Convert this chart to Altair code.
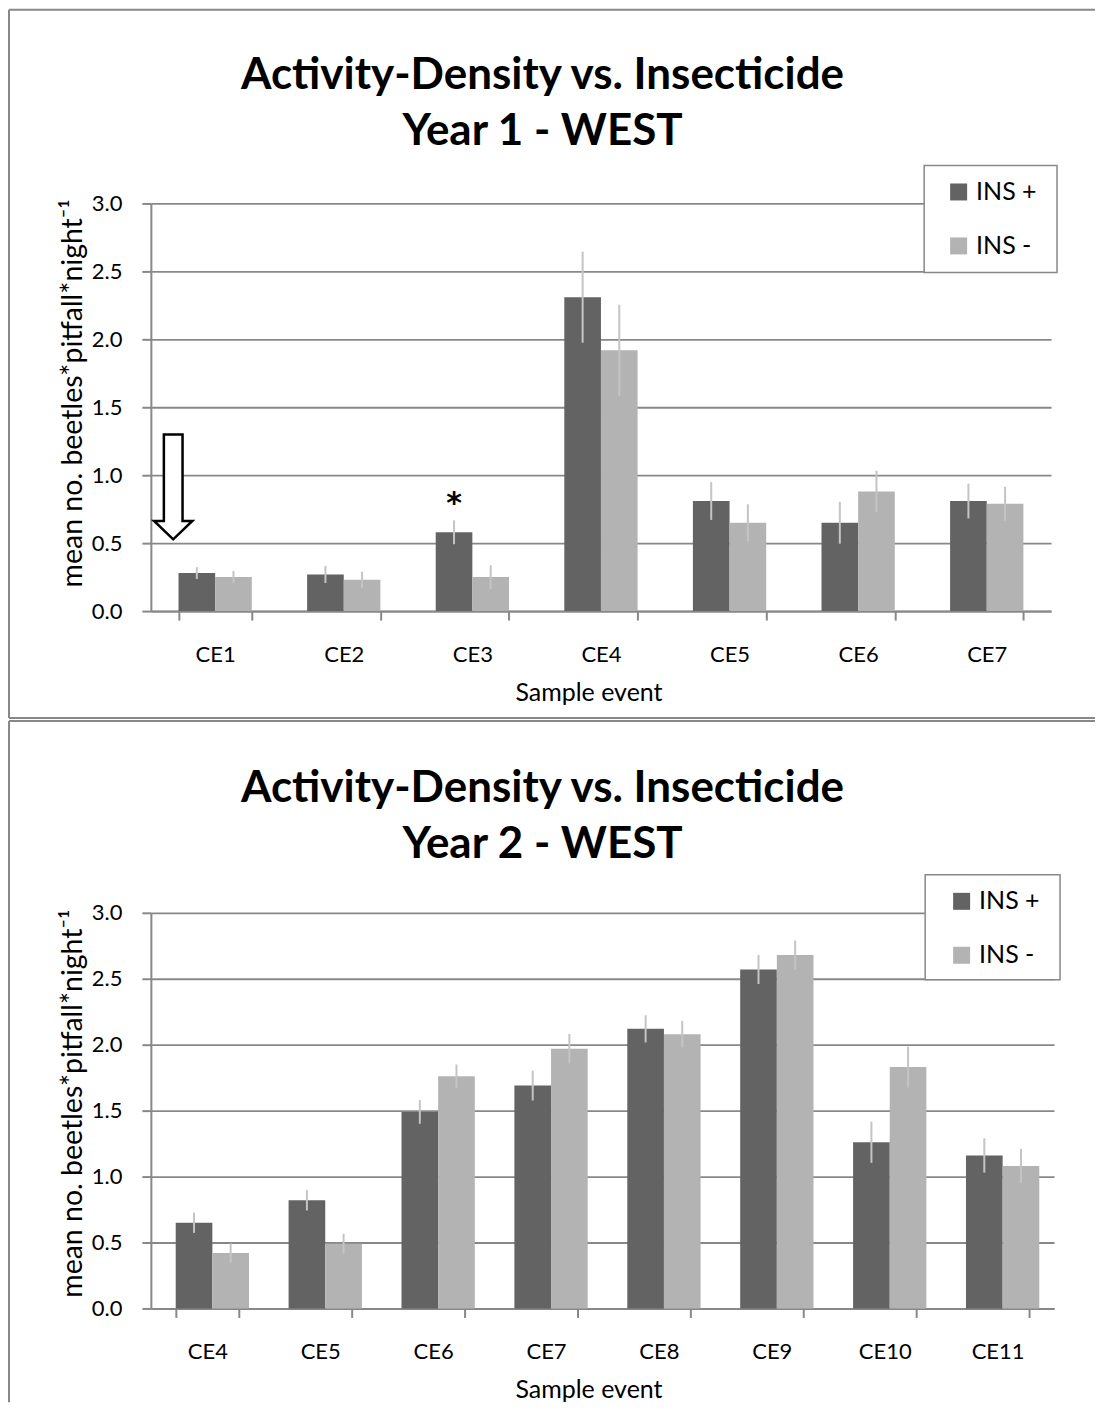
import altair as alt
import pandas as pd

# ---------------- data ----------------
treatments = ["INS +", "INS -"]

events_y1 = ["CE1", "CE2", "CE3", "CE4", "CE5", "CE6", "CE7"]
ins_plus_y1 = [0.28, 0.27, 0.58, 2.31, 0.81, 0.65, 0.81]
ins_plus_err_y1 = [0.043, 0.063, 0.088, 0.335, 0.139, 0.154, 0.128]
ins_minus_y1 = [0.25, 0.23, 0.25, 1.92, 0.65, 0.88, 0.79]
ins_minus_err_y1 = [0.045, 0.060, 0.087, 0.334, 0.136, 0.153, 0.125]

events_y2 = ["CE4", "CE5", "CE6", "CE7", "CE8", "CE9", "CE10", "CE11"]
ins_plus_y2 = [0.65, 0.82, 1.49, 1.69, 2.12, 2.57, 1.26, 1.16]
ins_plus_err_y2 = [0.077, 0.077, 0.090, 0.113, 0.103, 0.110, 0.156, 0.130]
ins_minus_y2 = [0.42, 0.49, 1.76, 1.97, 2.08, 2.68, 1.83, 1.08]
ins_minus_err_y2 = [0.073, 0.076, 0.090, 0.112, 0.100, 0.110, 0.155, 0.130]

y_ticks = [0.0, 0.5, 1.0, 1.5, 2.0, 2.5, 3.0]
title_line1 = "Activity-Density vs. Insecticide"
y_title = "mean no. beetles*pitfall*night\u207b\u00b9"
x_title = "Sample event"

# annotations
arrow_event = "CE1"
arrow_mid = 0.914
star_event = "CE3"
star_trt = "INS +"
star_y = 0.72

COLORS = ["#636363", "#b3b3b3"]
GRAY = "#888888"
FONT = "Lato"

ARROW = ("M-0.178,-1 L0.178,-1 L0.178,0.648 L0.365,0.648 L0,1 "
         "L-0.365,0.648 L-0.178,0.648 Z")


def panel(events, plus, plus_err, minus, minus_err, year_line, width, height,
          pin, pout, title_pos, y_title_y, legend_x, legend_y,
          box, frame, draw_bottom, annotate):
    rows = []
    for e, p, pe, m, me in zip(events, plus, plus_err, minus, minus_err):
        rows.append({"event": e, "trt": "INS +", "mean": p, "lo": p - pe, "hi": p + pe})
        rows.append({"event": e, "trt": "INS -", "mean": m, "lo": m - me, "hi": m + me})
    df = pd.DataFrame(rows)

    xscale = alt.Scale(domain=events, paddingInner=pin, paddingOuter=pout)
    x_axis = alt.Axis(labelAngle=0, tickBand="extent", tickSize=9, labelPadding=24,
                      labelFontSize=22, titleFontSize=25, titlePadding=15,
                      titleX=438, grid=False)
    yscale = alt.Scale(domain=[0, 3])
    y_axis = alt.Axis(values=y_ticks, format=".1f", tickSize=9, labelPadding=20,
                      labelFontSize=22, titleFontSize=28.5, titlePadding=4,
                      titleY=y_title_y, grid=True)
    off = alt.XOffset("trt:N", scale=alt.Scale(domain=treatments, paddingInner=0, paddingOuter=0))

    base = alt.Chart(df)
    bars = base.mark_bar().encode(
        x=alt.X("event:N", scale=xscale, axis=x_axis, title=x_title),
        xOffset=off,
        y=alt.Y("mean:Q", scale=yscale, axis=y_axis, title=y_title),
        color=alt.Color("trt:N", scale=alt.Scale(domain=treatments, range=COLORS),
                        legend=alt.Legend(orient="none", legendX=legend_x, legendY=legend_y,
                                          title=None, symbolType="square", symbolSize=289,
                                          symbolStrokeWidth=0, labelFontSize=25,
                                          labelOffset=5, rowPadding=28, padding=0,
                                          labelFont=FONT, labelColor="black")),
    )
    errs = base.mark_rule(color="#c4c4c4", strokeWidth=2).encode(
        x=alt.X("event:N", scale=xscale, title=x_title),
        xOffset=off,
        y=alt.Y("lo:Q", scale=yscale, title=y_title),
        y2="hi:Q",
    )

    one = alt.Chart(pd.DataFrame({"k": [0]}))
    fl, ft, fb, fr = frame
    frame_top = one.mark_rule(color=GRAY, strokeWidth=2).encode(
        x=alt.value(fl), x2=alt.value(fr), y=alt.value(ft))
    frame_left = one.mark_rule(color=GRAY, strokeWidth=2).encode(
        x=alt.value(fl), y=alt.value(ft), y2=alt.value(fb))
    bx1, by1, bx2, by2 = box
    legend_box = one.mark_rect(fill="white", stroke=GRAY, strokeWidth=1.5).encode(
        x=alt.value(bx1), x2=alt.value(bx2), y=alt.value(by1), y2=alt.value(by2))

    tx, ty = title_pos
    title = one.mark_text(font=FONT, fontSize=44, fontWeight="bold", lineHeight=56,
                          align="center", baseline="alphabetic", color="black").encode(
        x=alt.value(tx), y=alt.value(ty), text=alt.value([title_line1, year_line]))

    layers = [bars, errs, legend_box, frame_top, frame_left, title]
    if draw_bottom:
        layers.append(one.mark_rule(color=GRAY, strokeWidth=2).encode(
            x=alt.value(fl), x2=alt.value(fr), y=alt.value(fb)))

    if annotate:
        arrow = alt.Chart(pd.DataFrame({"event": [arrow_event], "mean": [arrow_mid]})).mark_point(
            shape=ARROW, size=11025, filled=True, fill="white", stroke="black",
            strokeWidth=2.5, opacity=1, xOffset=-42
        ).encode(x=alt.X("event:N", scale=xscale, title=x_title),
                 y=alt.Y("mean:Q", scale=yscale, title=y_title))
        star = alt.Chart(pd.DataFrame({"event": [star_event], "trt": [star_trt],
                                       "mean": [star_y], "label": ["*"]})).mark_text(
            font="DejaVu Sans", fontSize=30, fontWeight="bold", baseline="alphabetic",
            color="black"
        ).encode(x=alt.X("event:N", scale=xscale, title=x_title), xOffset=off,
                 y=alt.Y("mean:Q", scale=yscale, title=y_title), text="label:N")
        layers += [arrow, star]

    return alt.layer(*layers).properties(width=width, height=height)


top = panel(events_y1, ins_plus_y1, ins_plus_err_y1, ins_minus_y1, ins_minus_err_y1,
            "Year 1 - WEST", 901, 408, 0.43, 0.215, (392, -115), 189.5,
            796, -24, (774, -38, 907, 69), (-142, -194, 515, 945), True, True)
bottom = panel(events_y2, ins_plus_y2, ins_plus_err_y2, ins_minus_y2, ins_minus_err_y2,
               "Year 2 - WEST", 904, 396, 0.44, 0.22, (392, -111), 190.5,
               799, -24, (775, -38, 910, 67), (-142, -192, 490, 945), False, False)

chart = alt.vconcat(top, bottom, spacing=1).resolve_legend(
    color="independent"
).resolve_scale(color="independent").properties(padding=0).configure_view(
    strokeWidth=0
).configure_axis(
    domainColor=GRAY, domainWidth=2, gridColor=GRAY, gridWidth=1.8,
    tickColor=GRAY, tickWidth=2, labelColor="black", titleColor="black",
    labelFont=FONT, titleFont=FONT, titleFontWeight="normal"
).configure_text(font=FONT)

chart.save("out.html", embed_options={"renderer": "svg", "actions": False})
